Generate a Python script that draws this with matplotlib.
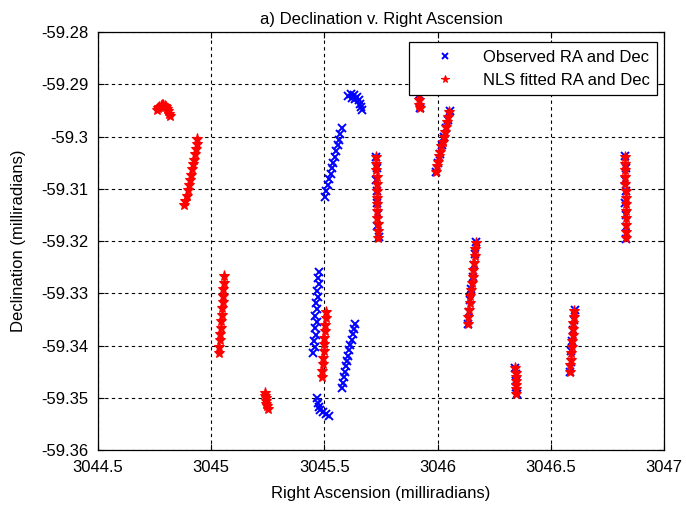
import matplotlib
matplotlib.use("Agg")
import matplotlib.pyplot as plt

plt.rcParams['font.family'] = ['Liberation Sans', 'DejaVu Sans']

# observed RA / Dec (milliradians), one list per track
obs_ra_1 = [3045.604, 3045.617, 3045.631, 3045.644, 3045.653, 3045.657, 3045.662, 3045.666, 3045.635, 3045.622]
obs_dec_1 = [-59.29225, -59.29187, -59.29206, -59.29244, -59.29301, -59.29378, -59.29435, -59.29493, -59.29282, -59.29263]

obs_ra_2 = [3045.576, 3045.570, 3045.564, 3045.558, 3045.552, 3045.546, 3045.540, 3045.533, 3045.527, 3045.521, 3045.515, 3045.509, 3045.503]
obs_dec_2 = [-59.2984, -59.2995, -59.3006, -59.3017, -59.3028, -59.3039, -59.3050, -59.3060, -59.3071, -59.3082, -59.3093, -59.3104, -59.3115]

obs_ra_3 = [3045.478, 3045.470, 3045.474, 3045.466, 3045.472, 3045.463, 3045.468, 3045.460, 3045.465, 3045.457, 3045.462, 3045.454, 3045.458, 3045.451]
obs_dec_3 = [-59.3259, -59.3271, -59.3283, -59.3295, -59.3307, -59.3319, -59.3331, -59.3343, -59.3355, -59.3367, -59.3379, -59.3391, -59.3403, -59.3415]

obs_ra_4 = [3045.635, 3045.630, 3045.625, 3045.620, 3045.615, 3045.610, 3045.605, 3045.600, 3045.595, 3045.590, 3045.585, 3045.580, 3045.576]
obs_dec_4 = [-59.3358, -59.3368, -59.3378, -59.3389, -59.3399, -59.3409, -59.3420, -59.3430, -59.3440, -59.3451, -59.3461, -59.3471, -59.3482]

obs_ra_5 = [3045.467, 3045.472, 3045.476, 3045.481, 3045.494, 3045.507, 3045.520]
obs_dec_5 = [-59.35005, -59.35101, -59.35177, -59.35234, -59.35273, -59.35311, -59.35349]

obs_ra_6 = [3045.726, 3045.730, 3045.728, 3045.733, 3045.731, 3045.736, 3045.734, 3045.739]
obs_dec_6 = [-59.3040, -59.3061, -59.3083, -59.3105, -59.3127, -59.3149, -59.3171, -59.3193]

obs_ra_7 = [3045.910, 3045.914, 3045.916, 3045.920, 3045.922]
obs_dec_7 = [-59.2895, -59.2908, -59.2921, -59.2934, -59.2946]

obs_ra_8 = [3046.053, 3046.044, 3046.036, 3046.027, 3046.019, 3046.010, 3046.001, 3045.992]
obs_dec_8 = [-59.2952, -59.2968, -59.2984, -59.3000, -59.3017, -59.3033, -59.3050, -59.3068]

obs_ra_9 = [3046.171, 3046.165, 3046.160, 3046.155, 3046.149, 3046.144, 3046.138, 3046.132]
obs_dec_9 = [-59.3202, -59.3224, -59.3246, -59.3268, -59.3291, -59.3313, -59.3335, -59.3358]

obs_ra_10 = [3046.342, 3046.344, 3046.346, 3046.348, 3046.349]
obs_dec_10 = [-59.3443, -59.3455, -59.3467, -59.3480, -59.3493]

obs_ra_11 = [3046.605, 3046.601, 3046.598, 3046.595, 3046.591, 3046.588, 3046.584]
obs_dec_11 = [-59.3332, -59.3352, -59.3371, -59.3391, -59.3411, -59.3431, -59.3451]

obs_ra_12 = [3046.827, 3046.830, 3046.828, 3046.832, 3046.829, 3046.833, 3046.830, 3046.831]
obs_dec_12 = [-59.3038, -59.3060, -59.3083, -59.3105, -59.3128, -59.3150, -59.3173, -59.3196]

# NLS fitted RA / Dec
fit_ra_1 = [3044.759, 3044.765, 3044.771, 3044.777, 3044.783, 3044.789, 3044.795, 3044.801, 3044.806, 3044.811, 3044.815, 3044.818]
fit_dec_1 = [-59.2950, -59.2946, -59.2943, -59.2941, -59.2940, -59.2940, -59.2941, -59.2944, -59.2948, -59.2952, -59.2957, -59.2961]

fit_ra_2 = [3044.939, 3044.935, 3044.931, 3044.927, 3044.922, 3044.918, 3044.914, 3044.909, 3044.905, 3044.900, 3044.896, 3044.891, 3044.886, 3044.881]
fit_dec_2 = [-59.3004, -59.3014, -59.3024, -59.3034, -59.3044, -59.3053, -59.3063, -59.3073, -59.3083, -59.3093, -59.3103, -59.3113, -59.3123, -59.3132]

fit_ra_3 = [3045.057, 3045.055, 3045.053, 3045.051, 3045.050, 3045.048, 3045.046, 3045.044, 3045.042, 3045.040, 3045.038, 3045.036, 3045.034]
fit_dec_3 = [-59.3267, -59.3280, -59.3292, -59.3305, -59.3317, -59.3329, -59.3341, -59.3353, -59.3366, -59.3378, -59.3390, -59.3403, -59.3415]

fit_ra_4 = [3045.238, 3045.239, 3045.240, 3045.242, 3045.244, 3045.247, 3045.250]
fit_dec_4 = [-59.3491, -59.3496, -59.3501, -59.3506, -59.3511, -59.3516, -59.3521]

fit_ra_5 = [3045.507, 3045.505, 3045.503, 3045.502, 3045.500, 3045.498, 3045.496, 3045.494, 3045.492, 3045.490, 3045.488]
fit_dec_5 = [-59.3335, -59.3348, -59.3360, -59.3373, -59.3385, -59.3398, -59.3410, -59.3423, -59.3435, -59.3448, -59.3460]

fit_ra_6 = [3045.728, 3045.729, 3045.729, 3045.730, 3045.731, 3045.731, 3045.732, 3045.733, 3045.733, 3045.734, 3045.735, 3045.736, 3045.737]
fit_dec_6 = [-59.3039, -59.3052, -59.3065, -59.3078, -59.3091, -59.3104, -59.3117, -59.3130, -59.3143, -59.3156, -59.3168, -59.3181, -59.3194]

fit_ra_7 = [3045.912, 3045.913, 3045.914, 3045.915, 3045.916, 3045.917, 3045.919, 3045.920]
fit_dec_7 = [-59.2880, -59.2890, -59.2900, -59.2910, -59.2920, -59.2930, -59.2940, -59.2946]

fit_ra_8 = [3046.052, 3046.047, 3046.042, 3046.037, 3046.032, 3046.027, 3046.022, 3046.017, 3046.012, 3046.007, 3046.002, 3045.997, 3045.993]
fit_dec_8 = [-59.2953, -59.2962, -59.2972, -59.2981, -59.2991, -59.3000, -59.3010, -59.3019, -59.3029, -59.3038, -59.3048, -59.3057, -59.3067]

fit_ra_9 = [3046.170, 3046.167, 3046.164, 3046.161, 3046.158, 3046.155, 3046.152, 3046.148, 3046.145, 3046.142, 3046.139, 3046.136, 3046.133]
fit_dec_9 = [-59.3203, -59.3216, -59.3229, -59.3242, -59.3255, -59.3268, -59.3281, -59.3293, -59.3306, -59.3319, -59.3332, -59.3345, -59.3358]

fit_ra_10 = [3046.343, 3046.344, 3046.345, 3046.345, 3046.346, 3046.347, 3046.348]
fit_dec_10 = [-59.3444, -59.3452, -59.3460, -59.3468, -59.3476, -59.3484, -59.3492]

fit_ra_11 = [3046.604, 3046.602, 3046.600, 3046.598, 3046.596, 3046.594, 3046.592, 3046.590, 3046.588, 3046.586, 3046.585]
fit_dec_11 = [-59.3333, -59.3345, -59.3357, -59.3368, -59.3380, -59.3392, -59.3403, -59.3415, -59.3427, -59.3438, -59.3450]

fit_ra_12 = [3046.828, 3046.828, 3046.829, 3046.829, 3046.829, 3046.830, 3046.830, 3046.830, 3046.831, 3046.831, 3046.831, 3046.831, 3046.831]
fit_dec_12 = [-59.3039, -59.3052, -59.3065, -59.3078, -59.3091, -59.3104, -59.3117, -59.3130, -59.3143, -59.3156, -59.3169, -59.3182, -59.3195]

x_ticks = [3044.5, 3045, 3045.5, 3046, 3046.5, 3047]
x_labels = ['3044.5', '3045', '3045.5', '3046', '3046.5', '3047']
y_ticks = [-59.36, -59.35, -59.34, -59.33, -59.32, -59.31, -59.30, -59.29, -59.28]
y_labels = ['-59.36', '-59.35', '-59.34', '-59.33', '-59.32', '-59.31', '-59.3', '-59.29', '-59.28']

obs_ra = (obs_ra_1 + obs_ra_2 + obs_ra_3 + obs_ra_4 + obs_ra_5 + obs_ra_6
          + obs_ra_7 + obs_ra_8 + obs_ra_9 + obs_ra_10 + obs_ra_11 + obs_ra_12)
obs_dec = (obs_dec_1 + obs_dec_2 + obs_dec_3 + obs_dec_4 + obs_dec_5 + obs_dec_6
           + obs_dec_7 + obs_dec_8 + obs_dec_9 + obs_dec_10 + obs_dec_11 + obs_dec_12)
fit_ra = (fit_ra_1 + fit_ra_2 + fit_ra_3 + fit_ra_4 + fit_ra_5 + fit_ra_6
          + fit_ra_7 + fit_ra_8 + fit_ra_9 + fit_ra_10 + fit_ra_11 + fit_ra_12)
fit_dec = (fit_dec_1 + fit_dec_2 + fit_dec_3 + fit_dec_4 + fit_dec_5 + fit_dec_6
           + fit_dec_7 + fit_dec_8 + fit_dec_9 + fit_dec_10 + fit_dec_11 + fit_dec_12)

fig = plt.figure(figsize=(6.86, 5.09), dpi=100)
ax = fig.add_axes([0.1429, 0.1159, 0.8251, 0.8212])

ax.plot(obs_ra, obs_dec, 'x', color='#0000ff', markersize=6, mew=1.4,
        label='Observed RA and Dec')
ax.plot(fit_ra, fit_dec, '*', color='#ff0000', markersize=8, mew=0.8,
        label='NLS fitted RA and Dec')

ax.set_xlim(3044.5, 3047)
ax.set_ylim(-59.36, -59.28)
ax.set_xticks(x_ticks)
ax.set_xticklabels(x_labels)
ax.set_yticks(y_ticks)
ax.set_yticklabels(y_labels)
ax.tick_params(direction='in', top=True, right=True, labelsize=12, length=4, pad=7)
ax.grid(True, color='black', linestyle=(0, (3, 3)), linewidth=0.8)
for s in ax.spines.values():
    s.set_linewidth(0.9)

ax.set_title('a) Declination v. Right Ascension', fontsize=12, pad=6)
ax.set_xlabel('Right Ascension (milliradians)', fontsize=12, labelpad=8)
ax.set_ylabel('Declination (milliradians)', fontsize=12, labelpad=11)

leg = ax.legend(loc='upper right', bbox_to_anchor=(0.988, 0.976), fontsize=12,
                fancybox=False, framealpha=1, edgecolor='black',
                borderaxespad=0, borderpad=0.45, labelspacing=0.5,
                handlelength=3.4, handletextpad=0.6, markerscale=0.7)
leg.get_frame().set_linewidth(0.9)
leg.set_zorder(5)

fig.savefig('out.png', dpi=100)
